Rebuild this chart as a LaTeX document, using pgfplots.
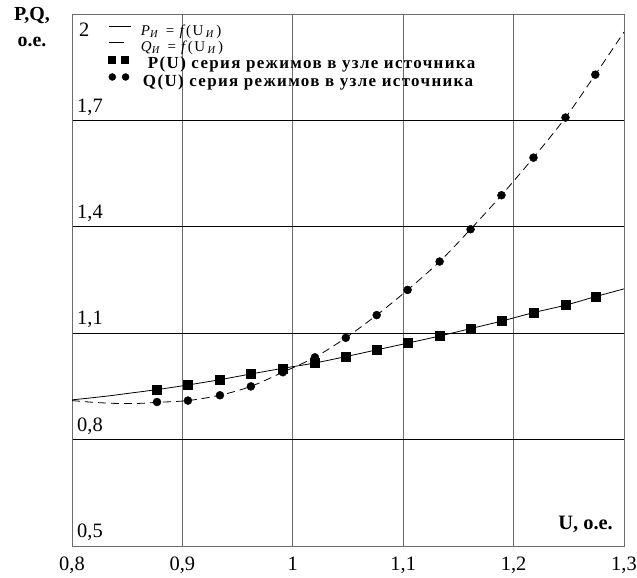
\documentclass[border=0pt]{standalone}
\usepackage{pgfplots}
\pgfplotsset{compat=1.18}
\usepackage{fontspec}
\setmainfont{Liberation Serif}
\newcommand{\lstrut}{\rule[-6bp]{0pt}{18bp}}
\begin{document}
\begin{tikzpicture}
\begin{axis}[
 scale only axis, width=552bp, height=532bp,
 xmin=0.8, xmax=1.3, ymin=0.5, ymax=2,
 xtick={0.8,0.9,1,1.1,1.2,1.3},
 ytick={0.5,0.8,1.1,1.4,1.7},
 extra y ticks={2},
 extra y tick style={yticklabel style={anchor=north west, xshift=2bp, yshift=-4bp}, grid=none},
 grid=major,
 x grid style={line width=0.8bp, gray!85!black},
 y grid style={line width=0.8bp, black},
 axis line style={line width=0.8bp, gray!85!black},
 tick style={draw=none},
 /pgf/number format/use comma,
 /pgf/number format/assume math mode=true,
 ticklabel style={font=\fontsize{20.5}{22}\selectfont},
 yticklabel style={anchor=south west, inner sep=5bp},
 xticklabel style={yshift=-7bp},
 clip mode=individual,
 legend cell align=left,
 legend style={at={(rel axis cs:0.0652,0.983)}, anchor=north west, draw=none, fill=none,
   font=\fontsize{17}{18}\selectfont\bfseries, row sep=3bp, inner sep=0pt,
   nodes={inner sep=0pt}},
]
\addplot[black, line width=0.8bp, smooth,
  legend image code/.code={\draw[black,solid,line width=0.8bp] (0bp,4bp) -- (22bp,4bp); \path (0bp,0bp) (32bp,0bp);}]
coordinates {(0.8,0.912) (0.83,0.922) (0.85,0.930) (0.877,0.941) (0.905,0.954) (0.934,0.969) (0.962,0.985) (0.991,1.001) (1.020,1.016) (1.048,1.034) (1.076,1.053) (1.104,1.072) (1.133,1.092) (1.161,1.113) (1.189,1.134) (1.218,1.158) (1.247,1.179) (1.274,1.203) (1.3,1.225)};
\addlegendentry{\lstrut{\fontsize{15}{16}\selectfont\mdseries\addfontfeature{LetterSpace=10}\itshape P\textsubscript{И}\upshape{}\, = \itshape f\,\upshape(U\,\textsubscript{\itshape И}\,)}}
\addplot[black, line width=0.8bp, smooth, dash pattern=on 8bp off 5bp,
  legend image code/.code={\draw[black,solid,line width=0.8bp] (0bp,4bp) -- (15bp,4bp); \path (0bp,0bp) (32bp,0bp);}]
coordinates {(0.8,0.910) (0.82,0.905) (0.84,0.902) (0.86,0.902) (0.877,0.905) (0.905,0.910) (0.934,0.925) (0.962,0.950) (0.991,0.990) (1.020,1.032) (1.048,1.087) (1.076,1.151) (1.104,1.222) (1.133,1.302) (1.161,1.393) (1.189,1.489) (1.218,1.595) (1.247,1.708) (1.274,1.829) (1.3,1.949)};
\addlegendentry{\lstrut{\fontsize{15}{16}\selectfont\mdseries\addfontfeature{LetterSpace=10}\itshape Q\textsubscript{И}\upshape{}\, = \itshape f\,\upshape(U\,\textsubscript{\itshape И}\,)}}
\addplot[only marks, mark=square*, mark size=4.5bp, black,
  legend image code/.code={\draw[black] plot[mark=square*, mark size=3.5bp, only marks] coordinates {(3.5bp,4bp) (16.5bp,4bp)}; \path (0bp,0bp) (32bp,0bp);}]
coordinates {(0.877,0.941) (0.905,0.954) (0.934,0.969) (0.962,0.985) (0.991,1.001) (1.020,1.016) (1.048,1.034) (1.076,1.053) (1.104,1.072) (1.133,1.092) (1.161,1.113) (1.189,1.134) (1.218,1.158) (1.247,1.179) (1.274,1.203)};
\addlegendentry{\lstrut\hspace{7bp}{\addfontfeature{LetterSpace=8}P(U) серия режимов в узле источника}}
\addplot[only marks, mark=*, mark size=4bp, black,
  legend image code/.code={\draw[black] plot[mark=*, mark size=3.5bp, only marks] coordinates {(3.7bp,4bp) (17bp,4bp)}; \path (0bp,0bp) (32bp,0bp);}]
coordinates {(0.877,0.906) (0.905,0.910) (0.934,0.925) (0.962,0.950) (0.991,0.990) (1.020,1.032) (1.048,1.087) (1.076,1.151) (1.104,1.222) (1.133,1.302) (1.161,1.393) (1.189,1.489) (1.218,1.595) (1.247,1.708) (1.274,1.829)};
\addlegendentry{\lstrut\hspace{2bp}{\addfontfeature{LetterSpace=8}Q(U) серия режимов в узле источника}}
\coordinate (SW) at (rel axis cs:0,0);
\coordinate (NE) at (rel axis cs:1,1);
\node[font=\fontsize{20}{26}\selectfont\bfseries, align=center, anchor=north, inner sep=0pt] at ([xshift=-40bp, yshift=7bp]rel axis cs:0,1) {P,Q,\\o.e.};
\node[font=\fontsize{20.5}{22}\selectfont\bfseries, anchor=south east, inner sep=0pt] at ([xshift=-11bp, yshift=13bp]rel axis cs:1,0) {U, o.e.};
\end{axis}
\pgfresetboundingbox
\path (SW) ++(-72bp,-32bp) rectangle ([shift={(13bp,14bp)}]NE);
\end{tikzpicture}
\end{document}
